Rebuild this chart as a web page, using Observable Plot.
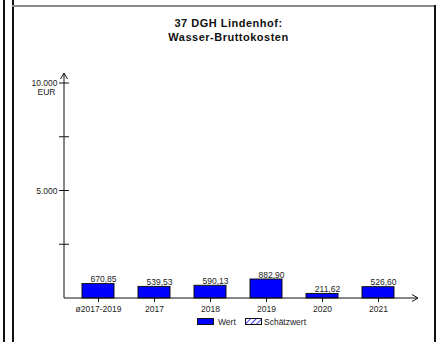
<!DOCTYPE html>
<html>
<head>
<meta charset="utf-8">
<script src="https://cdn.jsdelivr.net/npm/d3@7"></script>
<script src="https://cdn.jsdelivr.net/npm/@observablehq/plot@0.6"></script>
<style>
  html, body { margin: 0; padding: 0; background: #fff; }
  #wrap { position: relative; width: 438px; height: 342px; overflow: hidden; font-family: "Liberation Sans", Arial, sans-serif; color: #222; }
  #chart { position: absolute; left: 0; top: 0; }
  .vline { position: absolute; top: 0; width: 1.5px; height: 342px; background: #111; }
  .title { position: absolute; left: 0; width: 457px; text-align: center; font-weight: bold; font-size: 11px; letter-spacing: 0.5px; color: #111; white-space: nowrap; }
  .leg { position: absolute; font-size: 8.5px; color: #222; white-space: nowrap; }
</style>
</head>
<body>
<div id="wrap">
  <div id="chart"></div>
  <div class="vline" style="left:3px"></div>
  <div class="vline" style="left:12px"></div>
  <div style="position:absolute;left:12px;top:5px;width:422px;height:1.5px;background:#888"></div>
  <div class="vline" style="left:434px;top:5px"></div>
  <div class="title" style="top:17px">37 DGH Lindenhof:</div>
  <div class="title" style="top:31px">Wasser-Bruttokosten</div>
  <div id="legend"></div>
</div>
<script>
const categories = ["ø2017-2019", "2017", "2018", "2019", "2020", "2021"];
const values = [670.85, 539.53, 590.13, 882.90, 211.62, 526.60];
const yTicks = [2500, 5000, 7500, 10000];
const yTickLabels = [[5000, "5.000"], [10000, "10.000"]];
const yUnit = "EUR";
const legendItems = ["Wert", "Schätzwert"];

const data = categories.map((c, i) => ({cat: c, value: values[i]}));
const fmt = v => d3.format(".2f")(v).replace(".", ",");

const axes = (index, scales, vals, dim) => {
  const {x, y} = scales;
  const ns = "http://www.w3.org/2000/svg";
  const g = document.createElementNS(ns, "g");
  g.setAttribute("stroke", "#111");
  g.setAttribute("fill", "none");
  g.setAttribute("stroke-width", "1");
  const x0 = dim.marginLeft, x1 = dim.width - dim.marginRight;
  const y0 = y(0), yTop = y(d3.max(yTicks)) - 10;
  const line = (a, b, c, d) => {
    const l = document.createElementNS(ns, "line");
    l.setAttribute("x1", a); l.setAttribute("y1", b);
    l.setAttribute("x2", c); l.setAttribute("y2", d);
    g.appendChild(l);
  };
  line(x0, y0, x1, y0);
  line(x1, y0, x1 - 6, y0 - 3.5);
  line(x1, y0, x1 - 6, y0 + 3.5);
  line(x0, y0, x0, yTop);
  line(x0, yTop, x0 - 3.5, yTop + 6);
  line(x0, yTop, x0 + 3.5, yTop + 6);
  for (const t of yTicks) line(x0 - 5, y(t), x0 + 5, y(t));
  return g;
};

const plot = Plot.plot({
  width: 438,
  height: 342,
  marginLeft: 64,
  marginRight: 20,
  marginTop: 83,
  marginBottom: 44,
  style: {fontFamily: "Liberation Sans, Arial, sans-serif", fontSize: "8.5px", color: "#222", background: "transparent"},
  x: {type: "band", domain: categories, range: [80, 395], paddingInner: 0.435, paddingOuter: 0},
  y: {domain: [0, 10000], axis: null},
  marks: [
    Plot.barY(data, {x: "cat", y: "value", fill: "#0000ff", stroke: "#111", strokeWidth: 1}),
    Plot.text(data, {x: "cat", y: "value", text: d => fmt(d.value), dx: 5, dy: -2, lineAnchor: "bottom", fill: "#222", fontSize: 8.5}),
    Plot.axisX({tickSize: 4, tickPadding: 3, label: null, fontSize: 8.5, stroke: "#111"}),
    Plot.text(yTickLabels, {y: d => d[0], text: d => d[1], frameAnchor: "left", dx: -7, textAnchor: "end", fill: "#222", fontSize: 8.5}),
    Plot.text([10000], {y: d => d, text: () => yUnit, frameAnchor: "left", dx: -18, dy: 9, textAnchor: "middle", fill: "#222", fontSize: 8.5}),
    axes
  ]
});
document.getElementById("chart").appendChild(plot);

const leg = document.getElementById("legend");
leg.innerHTML = `
  <div style="position:absolute;left:197px;top:318px;width:15px;height:5px;background:#0000ff;border:1px solid #111"></div>
  <div class="leg" style="left:218px;top:317px">${legendItems[0]}</div>
  <svg style="position:absolute;left:245px;top:318px" width="17" height="7">
    <defs><pattern id="hatch" width="4" height="4" patternUnits="userSpaceOnUse" patternTransform="rotate(45)">
      <rect width="4" height="4" fill="#fff"/><line x1="0" y1="0" x2="0" y2="4" stroke="#0000ff" stroke-width="1.5"/></pattern></defs>
    <rect x="0.5" y="0.5" width="16" height="6" fill="url(#hatch)" stroke="#111" stroke-width="1"/>
  </svg>
  <div class="leg" style="left:264px;top:317px">${legendItems[1]}</div>`;
</script>
</body>
</html>
